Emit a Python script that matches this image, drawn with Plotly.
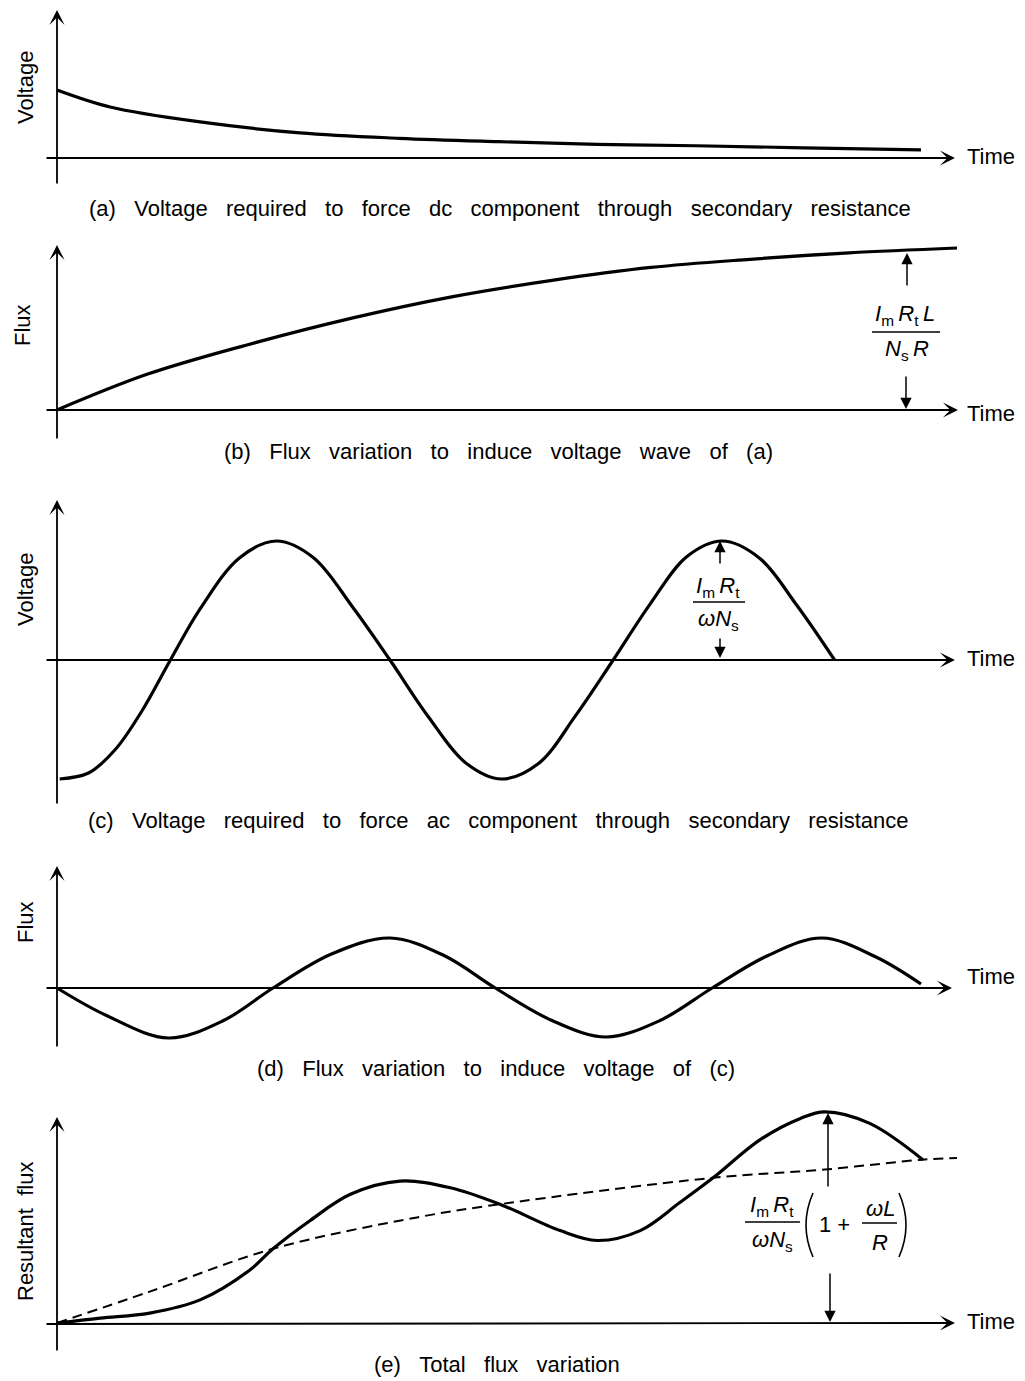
import plotly.graph_objects as go

# target screenshot size and the page's default body margin
W, H = 1025, 1381
OFF = 8
FW, FH = W - OFF, H - OFF

# ---------------- data (time in arbitrary units 0..100) ----------------
# (a) voltage needed for dc component (normalised to initial value)
t_a = [0, 5.9, 15.9, 27, 38, 49, 60, 71, 83, 96]
v_a = [1.0, 0.75, 0.53, 0.37, 0.29, 0.24, 0.20, 0.18, 0.15, 0.12]

# (b) flux to induce voltage (a)
t_b = [0, 10, 21, 33, 44, 55, 66, 77, 88, 100]
phi_b = [0, 0.22, 0.40, 0.57, 0.70, 0.80, 0.88, 0.93, 0.97, 1.0]

# (c) voltage for ac component
t_c = [0.3, 3.5, 6.5, 9.5, 12.6, 15.9, 20.3, 24.4, 28.5, 32.8, 37, 41.2, 45.5, 49.4,
       53.5, 57.6, 61.8, 65.9, 70, 73.9, 78, 82.2, 86.4]
v_c = [-1, -0.95, -0.75, -0.42, 0, 0.43, 0.86, 1, 0.86, 0.45, 0, -0.47, -0.87, -1,
       -0.87, -0.47, 0, 0.47, 0.87, 1, 0.86, 0.46, 0]

# (d) flux to induce voltage (c)
t_d = [0, 5.5, 12.4, 18.5, 24, 30.5, 37, 43, 48.7, 55, 61, 67, 72.8, 79, 85, 91, 96]
phi_d = [0, -0.55, -1, -0.65, 0, 0.68, 1, 0.65, 0, -0.65, -0.98, -0.65, 0, 0.65, 1, 0.62, 0.08]

# (e) resultant flux (solid) and dc flux (dashed)
t_e = [0, 4.8, 10.3, 15.9, 21.4, 24, 28.1, 32.6, 38.1, 43.7, 49.2, 55.9, 60, 64.8,
       69.2, 72.9, 78.1, 82.6, 85.3, 90.3, 96.2]
phi_e = [0, 0.03, 0.06, 0.14, 0.32, 0.45, 0.62, 0.78, 0.86, 0.82, 0.72, 0.56, 0.50, 0.56,
         0.73, 0.88, 1.11, 1.24, 1.28, 1.21, 0.99]
t_e_dc = [0, 10.3, 24, 40, 49.2, 72.9, 85.3, 96.2, 100]
phi_e_dc = [0, 0.19, 0.45, 0.64, 0.72, 0.88, 0.93, 0.99, 1.0]

# ---------------- layout geometry (screen pixels) ----------------
X0_PX, PX_PER_T = 57, 9.0
x_range = [(OFF - X0_PX) / PX_PER_T, (W - X0_PX) / PX_PER_T]

panels = [
    dict(t=t_a, y=v_a, zero=158, scale=68, top=8, bot=195),
    dict(t=t_b, y=phi_b, zero=410, scale=162, top=230, bot=447),
    dict(t=t_c, y=v_c, zero=660, scale=119, top=480, bot=812),
    dict(t=t_d, y=phi_d, zero=988, scale=50, top=850, bot=1058),
    dict(t=t_e, y=phi_e, zero=1323, scale=165, top=1095, bot=1365),
]

FONT = "Liberation Sans, Arial, Helvetica, sans-serif"


def py2paper(yp):
    return 1 - (yp - OFF) / FH


def px2paper(xp):
    return (xp - OFF) / FW


fig = go.Figure()
layout_axes = {}
for i, p in enumerate(panels, start=1):
    sfx = "" if i == 1 else str(i)
    layout_axes["xaxis" + sfx] = dict(domain=[0, 1], range=x_range, visible=False,
                                      anchor="y" + sfx, fixedrange=True)
    layout_axes["yaxis" + sfx] = dict(domain=[py2paper(p["bot"]), py2paper(p["top"])],
                                      range=[(p["zero"] - p["bot"]) / p["scale"],
                                             (p["zero"] - p["top"]) / p["scale"]],
                                      visible=False, anchor="x" + sfx, fixedrange=True)
    fig.add_trace(go.Scatter(x=p["t"], y=p["y"], mode="lines",
                             line=dict(color="black", width=3.2, shape="spline", smoothing=1.0),
                             xaxis="x" + sfx, yaxis="y" + sfx, showlegend=False,
                             hoverinfo="skip"))
    if i == 5:
        fig.add_trace(go.Scatter(x=t_e_dc, y=phi_e_dc, mode="lines",
                                 line=dict(color="black", width=2, dash="10px,6px",
                                           shape="spline", smoothing=1.0),
                                 xaxis="x5", yaxis="y5", showlegend=False, hoverinfo="skip"))


def P(xp, yp):
    return px2paper(xp), py2paper(yp)


annotations = []
shapes = []


def arrow(tip, tail, width=1.8, size=1.4, head=3):
    x, y = P(*tip)
    annotations.append(dict(x=x, y=y, xref="paper", yref="paper",
                            ax=tail[0] - tip[0], ay=tail[1] - tip[1],
                            axref="pixel", ayref="pixel", text="", showarrow=True,
                            arrowhead=head, arrowwidth=width, arrowsize=size,
                            arrowcolor="black", standoff=0))


def text(xp, yp, s, size=22, angle=0, xanchor="center"):
    x, y = P(xp, yp)
    annotations.append(dict(x=x, y=y, xref="paper", yref="paper", text=s, showarrow=False,
                            textangle=angle, xanchor=xanchor, yanchor="middle",
                            font=dict(family=FONT, size=size, color="black")))


def hline(x0, x1, yp, w=1.6):
    a0, b0 = P(x0, yp)
    a1, _ = P(x1, yp)
    shapes.append(dict(type="line", xref="paper", yref="paper", x0=a0, x1=a1, y0=b0, y1=b0,
                       line=dict(color="black", width=w)))


# axes with arrowheads
axis_specs = [
    ((57, 10), (57, 185), (955, 158), (45, 158)),
    ((57, 245), (57, 440), (958, 410), (45, 410)),
    ((57, 500), (57, 805), (955, 660), (45, 660)),
    ((57, 866), (57, 1048), (952, 988), (45, 988)),
    ((57, 1117), (57, 1352), (955, 1323), (45, 1324)),
]
for ytip, ytail, xtip, xtail in axis_specs:
    arrow(ytip, ytail)
    arrow(xtip, xtail)

# "Time" labels
for yp in [157, 413, 658, 977, 1321]:
    text(965, yp, "Time", xanchor="left")

# y labels
text(25, 88, "Voltage", angle=-90)
text(22, 325, "Flux", angle=-90)
text(25, 590, "Voltage", angle=-90)
text(25, 922, "Flux", angle=-90)
text(25, 1232, "Resultant\u00a0 flux", angle=-90)


# captions (wide word spacing as in the original)
def spaced(s):
    return s.replace(" ", " \u00a0\u00a0")


text(500, 208, spaced("(a) Voltage required to force dc component through secondary resistance"))
text(498, 452, spaced("(b) Flux variation to induce voltage wave of (a)"))
text(498, 820, spaced("(c) Voltage required to force ac component through secondary resistance"))
text(496, 1068, spaced("(d) Flux variation to induce voltage of (c)"))
text(497, 1364, spaced("(e) Total flux variation"))

TS = "\u2009"  # thin space between factors

# (b) dimension annotation
arrow((907, 253), (907, 287), width=1.5, size=1.5, head=2)
text(905, 315, f"<i>I</i><sub>m</sub>{TS}<i>R</i><sub>t</sub>{TS}<i>L</i>")
hline(872, 940, 332)
text(907, 350, f"<i>N</i><sub>s</sub>{TS}<i>R</i>")
arrow((906, 409), (906, 375), width=1.5, size=1.5, head=2)

# (c) dimension annotation
arrow((720, 541), (720, 565), width=1.5, size=1.5, head=2)
text(718, 587, f"<i>I</i><sub>m</sub>{TS}<i>R</i><sub>t</sub>")
hline(693, 745, 602)
text(718, 620, "<i>ωN</i><sub>s</sub>")
arrow((720, 658), (720, 637), width=1.5, size=1.5, head=2)

# (e) dimension annotation
arrow((828, 1113), (828, 1188), width=1.5, size=1.5, head=2)
text(772, 1206, f"<i>I</i><sub>m</sub>{TS}<i>R</i><sub>t</sub>")
hline(745, 800, 1222)
text(772, 1241, "<i>ωN</i><sub>s</sub>")
# parentheses
for (xe, xc) in [(813, 799), (899, 913)]:
    a0, b0 = P(xe, 1193)
    ac, bc = P(xc, 1225)
    a1, b1 = P(xe, 1257)
    shapes.append(dict(type="path", xref="paper", yref="paper",
                       path=f"M {a0} {b0} Q {ac} {bc} {a1} {b1}",
                       line=dict(color="black", width=1.6)))
text(834, 1224, "1 +")
text(880, 1208, "<i>ωL</i>")
hline(862, 897, 1223)
text(880, 1242, "<i>R</i>")
arrow((830, 1322), (830, 1272), width=1.5, size=1.5, head=2)

fig.update_layout(width=FW, height=FH, autosize=False,
                  margin=dict(l=0, r=0, t=0, b=0, pad=0),
                  paper_bgcolor="white", plot_bgcolor="white",
                  showlegend=False, annotations=annotations, shapes=shapes,
                  font=dict(family=FONT, color="black"),
                  **layout_axes)

fig.write_html("out.html", config={"displayModeBar": False})
